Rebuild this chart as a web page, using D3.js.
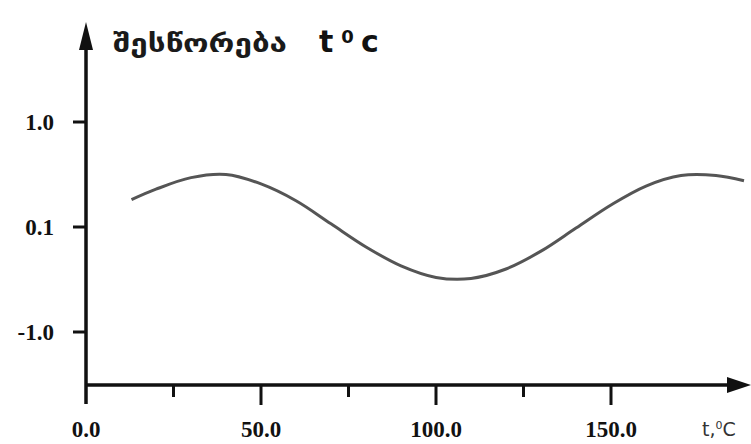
<!DOCTYPE html>
<html>
<head>
<meta charset="utf-8">
<script src="https://cdn.jsdelivr.net/npm/d3@7"></script>
<style>
  body { margin: 0; background: #fff; }
  .tick-label { font-family: "Liberation Serif", serif; font-weight: bold; font-size: 23px; }
</style>
</head>
<body>
<div id="chart"></div>
<script>
(function() {
  var width = 751,
      height = 444;

  // curve (x in units of the bottom axis)
  var xs = [13, 20, 30, 40, 50, 60, 70, 80, 90, 100, 110, 120, 130, 140, 150, 160, 170, 180, 188];
  var ys = [0.26, 0.36, 0.47, 0.50, 0.41, 0.25, 0.03, -0.19, -0.37, -0.48, -0.49, -0.40, -0.23, -0.01, 0.21, 0.39, 0.49, 0.49, 0.44];

  var xTicks = [0, 50, 100, 150];
  var xTickLabels = ["0.0", "50.0", "100.0", "150.0"];
  var xMinor = [25, 75, 125];
  var yTicks = [1, 0, -1];
  var yTickLabels = ["1.0", "0.1", "-1.0"];

  var svg = d3.select("#chart")
    .append("svg")
    .attr("width", width)
    .attr("height", height);

  var x = d3.scaleLinear().domain([0, 150]).range([86, 611]);
  var y = d3.scaleLinear().domain([-1, 1]).range([332, 122]);

  var x0 = x(0), yAxis = 385;

  // axes lines
  svg.append("line")
    .attr("x1", x0).attr("x2", 734)
    .attr("y1", yAxis).attr("y2", yAxis)
    .attr("stroke", "#111").attr("stroke-width", 3.5);
  svg.append("path")
    .attr("d", "M751," + yAxis + "L727," + (yAxis - 8) + "L727," + (yAxis + 8) + "Z")
    .attr("fill", "#111");

  svg.append("line")
    .attr("x1", x0).attr("x2", x0)
    .attr("y1", 404).attr("y2", 40)
    .attr("stroke", "#111").attr("stroke-width", 3.5);
  svg.append("path")
    .attr("d", "M" + x0 + ",22L" + (x0 - 7) + ",50L" + (x0 + 7) + ",50Z")
    .attr("fill", "#111");

  // x ticks
  svg.selectAll(".xtick")
    .data(xTicks.slice(1))
    .enter().append("line")
    .attr("class", "xtick")
    .attr("x1", function(d) { return x(d); })
    .attr("x2", function(d) { return x(d); })
    .attr("y1", yAxis).attr("y2", 405)
    .attr("stroke", "#111").attr("stroke-width", 3);

  svg.selectAll(".xminor")
    .data(xMinor)
    .enter().append("line")
    .attr("class", "xminor")
    .attr("x1", function(d) { return x(d); })
    .attr("x2", function(d) { return x(d); })
    .attr("y1", yAxis).attr("y2", 397)
    .attr("stroke", "#111").attr("stroke-width", 3);

  svg.selectAll(".xlab")
    .data(xTicks)
    .enter().append("text")
    .attr("class", "tick-label")
    .attr("x", function(d) { return x(d); })
    .attr("y", 437)
    .attr("text-anchor", "middle")
    .attr("fill", "#111")
    .text(function(d, i) { return xTickLabels[i]; });

  // y ticks
  svg.selectAll(".ytick")
    .data(yTicks)
    .enter().append("line")
    .attr("class", "ytick")
    .attr("x1", 73).attr("x2", x0)
    .attr("y1", function(d) { return y(d); })
    .attr("y2", function(d) { return y(d); })
    .attr("stroke", "#111").attr("stroke-width", 3);

  svg.selectAll(".ylab")
    .data(yTicks)
    .enter().append("text")
    .attr("class", "tick-label")
    .attr("x", 54)
    .attr("y", function(d) { return y(d) + 8; })
    .attr("text-anchor", "end")
    .attr("fill", "#111")
    .text(function(d, i) { return yTickLabels[i]; });

  // curve
  var line = d3.line()
    .x(function(d) { return x(d[0]); })
    .y(function(d) { return y(d[1]); })
    .curve(d3.curveCatmullRom);

  svg.append("path")
    .datum(d3.zip(xs, ys))
    .attr("d", line)
    .attr("fill", "none")
    .attr("stroke", "#555")
    .attr("stroke-width", 3);

  // titles
  svg.append("text")
    .attr("x", 113).attr("y", 52)
    .attr("textLength", 174)
    .attr("lengthAdjust", "spacingAndGlyphs")
    .style("font-family", "DejaVu Sans, sans-serif")
    .style("font-size", "25px")
    .style("font-weight", "bold")
    .attr("fill", "#1a1a1a")
    .text("შესწორება");

  var tc = svg.append("text")
    .attr("x", 319).attr("y", 52)
    .style("font-family", "DejaVu Sans, sans-serif")
    .style("font-size", "30px")
    .style("font-weight", "bold")
    .attr("fill", "#111");
  tc.append("tspan").text("t");
  tc.append("tspan").attr("dx", 8).attr("dy", -9).style("font-size", "18px").text("0");
  tc.append("tspan").attr("dx", 7).attr("dy", 9).text("c");

  var tl = svg.append("text")
    .attr("x", 702).attr("y", 436)
    .style("font-family", "DejaVu Sans, sans-serif")
    .style("font-size", "19px")
    .attr("fill", "#333");
  tl.append("tspan").text("t,");
  tl.append("tspan").attr("dy", -7).style("font-size", "11px").text("0");
  tl.append("tspan").attr("dy", 7).text("C");
})();
</script>
</body>
</html>
